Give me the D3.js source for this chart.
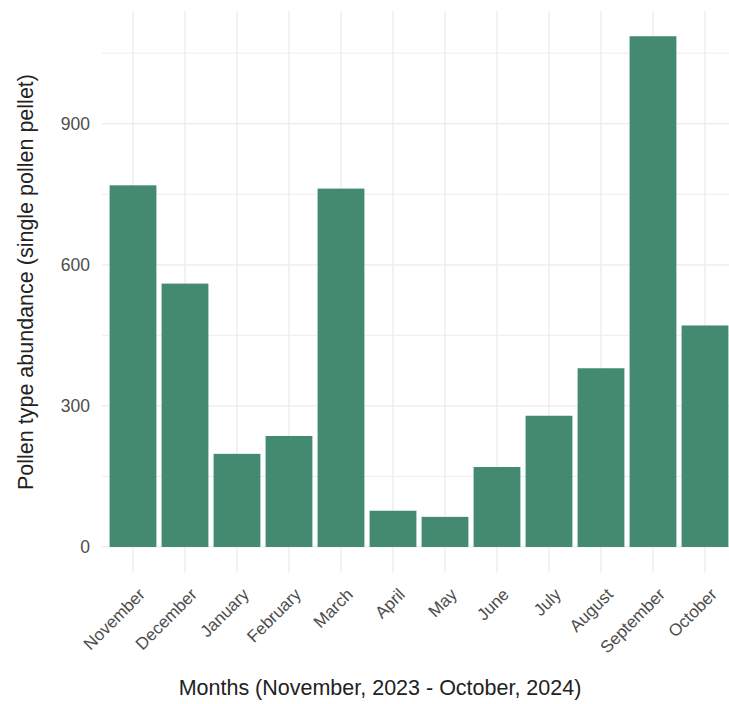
<!DOCTYPE html>
<html><head><meta charset="utf-8">
<script src="https://cdn.jsdelivr.net/npm/d3@7"></script>
<style>body{margin:0;background:#fff}svg{display:block}text{font-family:"Liberation Sans",Arial,sans-serif}</style>
</head><body>
<svg id="c" width="729" height="704"></svg>
<script>
const months = ["November","December","January","February","March","April","May","June","July","August","September","October"];
const abundance = [769, 560, 198, 236, 762, 77, 64, 170, 279, 380, 1086, 471];
const yTicks = [0, 300, 600, 900];
const yMinor = [150, 450, 750, 1050];

(function(){
const svg = d3.select("#c");
const pL = 101.8, pR = 736.2, pT = 10.7, pB = 572.5;
const x = d3.scaleBand().domain(months).range([pL, pR]).paddingInner(0.1).paddingOuter(0.15);
const ymax = d3.max(abundance);
const y = d3.scaleLinear().domain([-ymax*0.05, ymax*1.05]).range([pB, pT]);

const g = svg.append("g");
g.selectAll(".ymin").data(yMinor).join("line")
  .attr("x1", pL).attr("x2", pR).attr("y1", d=>y(d)).attr("y2", d=>y(d))
  .attr("stroke", "#ededed").attr("stroke-width", 1);
g.selectAll(".ymaj").data(yTicks).join("line")
  .attr("x1", pL).attr("x2", pR).attr("y1", d=>y(d)).attr("y2", d=>y(d))
  .attr("stroke", "#ebebeb").attr("stroke-width", 1.3);
g.selectAll(".xmaj").data(months).join("line")
  .attr("x1", d=>x(d)+x.bandwidth()/2).attr("x2", d=>x(d)+x.bandwidth()/2)
  .attr("y1", pT).attr("y2", pB)
  .attr("stroke", "#ebebeb").attr("stroke-width", 1.3);

g.selectAll("rect").data(months).join("rect")
  .attr("x", d=>x(d)).attr("width", x.bandwidth())
  .attr("y", (d,i)=>y(abundance[i])).attr("height", (d,i)=>y(0)-y(abundance[i]))
  .attr("fill", "#438a70");

g.selectAll(".yl").data(yTicks).join("text")
  .attr("x", 90).attr("y", d=>y(d)).attr("dy", "0.35em")
  .attr("text-anchor", "end").attr("font-size", 17.5).attr("fill", "#4d4d4d")
  .text(d=>d);

g.selectAll(".xl").data(months).join("text")
  .attr("text-anchor", "end").attr("font-size", 17).attr("fill", "#4d4d4d")
  .attr("transform", d=>`translate(${x(d)+x.bandwidth()/2+4},${pB+14}) rotate(-45)`)
  .attr("dy", "0.75em")
  .text(d=>d);

svg.append("text").attr("x", 380).attr("y", 695).attr("text-anchor", "middle")
  .attr("font-size", 21.5).attr("fill", "#222").text("Months (November, 2023 - October, 2024)");
svg.append("text").attr("transform", `translate(33,282) rotate(-90)`)
  .attr("text-anchor", "middle").attr("font-size", 21.5).attr("fill", "#222")
  .text("Pollen type abundance (single pollen pellet)");
})();
</script>
</body></html>
